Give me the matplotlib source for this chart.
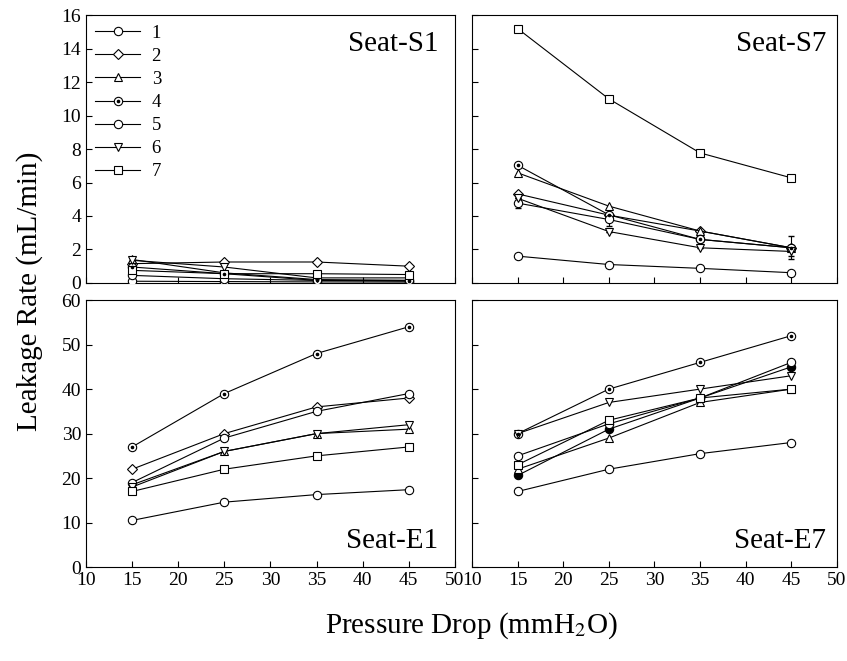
import numpy as np
import matplotlib
matplotlib.use("Agg")
import matplotlib.pyplot as plt
from matplotlib.legend_handler import HandlerTuple

plt.rcParams['font.family'] = ['Liberation Serif', 'DejaVu Serif']
plt.rcParams['mathtext.fontset'] = 'stix'

x = [15, 25, 35, 45]
labels = ['1', '2', '3', '4', '5', '6', '7']

# leakage rate (mL/min), one row per series 1..7
seat_s1 = [[0.10, 0.08, 0.06, 0.05],
           [1.15, 1.25, 1.25, 1.00],
           [1.40, 0.60, 0.20, 0.15],
           [0.95, 0.55, 0.15, 0.10],
           [0.45, 0.25, 0.15, 0.15],
           [1.35, 0.95, 0.30, 0.30],
           [0.75, 0.55, 0.55, 0.50]]
seat_s7 = [[1.60, 1.10, 0.87, 0.61],
           [5.32, 4.05, 3.10, 2.10],
           [6.58, 4.59, 3.10, 2.10],
           [7.03, 4.07, 2.60, 2.10],
           [4.77, 3.79, 2.60, 2.10],
           [5.06, 3.07, 2.10, 1.88],
           [15.2, 11.0, 7.77, 6.28]]
seat_e1 = [[10.5, 14.6, 16.3, 17.4],
           [22.0, 30.0, 36.0, 38.0],
           [18.5, 26.0, 30.0, 31.0],
           [27.0, 39.0, 48.0, 54.0],
           [19.0, 29.0, 35.0, 39.0],
           [18.0, 26.0, 30.0, 32.0],
           [17.0, 22.0, 25.0, 27.0]]
seat_e7 = [[17.0, 22.0, 25.5, 28.0],
           [20.6, 31.0, 38.0, 45.0],
           [22.0, 29.0, 37.0, 40.0],
           [30.0, 40.0, 46.0, 52.0],
           [25.0, 32.2, 38.0, 46.0],
           [30.0, 37.0, 40.0, 43.0],
           [23.0, 33.0, 38.0, 40.0]]

# error bars seen on Seat-S7 (series 5 and 6)
s7_err5 = [0.30, 0.40, 0.00, 0.70]
s7_err6 = [0.00, 0.00, 0.00, 0.30]

markers = ['o', 'D', '^', 'o', 'o', 'v', 's']
msizes = [6, 5.5, 6, 6, 6, 6, 5.5]

fig = plt.figure(figsize=(8.47, 6.61), dpi=100)
L1, R1, L2, R2 = 0.1015, 0.537, 0.5573, 0.988
T1, B1, T2, B2 = 0.977, 0.572, 0.546, 0.142
ax_s1 = fig.add_axes([L1, B1, R1 - L1, T1 - B1])
ax_s7 = fig.add_axes([L2, B1, R2 - L2, T1 - B1])
ax_e1 = fig.add_axes([L1, B2, R1 - L1, T2 - B2])
ax_e7 = fig.add_axes([L2, B2, R2 - L2, T2 - B2])


def draw(ax, data, filled2=False):
    handles = []
    for i, y in enumerate(data):
        face = 'white'
        mk = markers[i]
        ms = msizes[i]
        if filled2 and i == 1:
            mk, face, ms = 'o', 'black', 6
        ln, = ax.plot(x, y, color='black', lw=0.8, marker=mk, ms=ms,
                      mfc=face, mec='black', mew=0.8, zorder=3)
        if i == 3:
            dot, = ax.plot(x, y, ls='none', marker='o', ms=1.6,
                           color='black', zorder=4)
            handles.append((ln, dot))
        else:
            handles.append(ln)
    return handles


h = draw(ax_s1, seat_s1)
draw(ax_s7, seat_s7)
ax_s7.errorbar(x, seat_s7[4], yerr=s7_err5, fmt='none', ecolor='black',
               elinewidth=0.8, capsize=2.5, zorder=2)
ax_s7.errorbar(x, seat_s7[5], yerr=s7_err6, fmt='none', ecolor='black',
               elinewidth=0.8, capsize=2.5, zorder=2)
draw(ax_e1, seat_e1)
draw(ax_e7, seat_e7, filled2=True)

for ax in [ax_s1, ax_s7, ax_e1, ax_e7]:
    ax.set_xlim(10, 50)
    ax.set_xticks(np.arange(10, 51, 5))
    ax.tick_params(direction='in', length=4.5, width=0.8, labelsize=14)
    for sp in ax.spines.values():
        sp.set_linewidth(0.8)

for ax in [ax_s1, ax_s7]:
    ax.set_ylim(0, 16)
    ax.set_yticks(np.arange(0, 17, 2))
    ax.tick_params(labelbottom=False)
for ax in [ax_e1, ax_e7]:
    ax.set_ylim(0, 60)
    ax.set_yticks(np.arange(0, 61, 10))
for ax in [ax_s7, ax_e7]:
    ax.tick_params(labelleft=False)

ax_s1.text(0.955, 0.94, 'Seat-S1', transform=ax_s1.transAxes, ha='right', va='top', fontsize=21)
ax_s7.text(0.97, 0.94, 'Seat-S7', transform=ax_s7.transAxes, ha='right', va='top', fontsize=21)
ax_e1.text(0.955, 0.05, 'Seat-E1', transform=ax_e1.transAxes, ha='right', va='bottom', fontsize=21)
ax_e7.text(0.97, 0.05, 'Seat-E7', transform=ax_e7.transAxes, ha='right', va='bottom', fontsize=21)

ax_s1.legend(h, labels, loc='upper left', frameon=False, fontsize=13.5,
             handlelength=2.4, handletextpad=0.6, labelspacing=0.32,
             borderaxespad=0.1, handler_map={tuple: HandlerTuple(ndivide=1)})

fig.text(0.035, 0.56, 'Leakage Rate (mL/min)', rotation=90, ha='center', va='center', fontsize=21)
fig.text(0.557, 0.054, 'Pressure Drop (mmH$_2$O)', ha='center', va='center', fontsize=21)

fig.savefig('out.png', dpi=100)
